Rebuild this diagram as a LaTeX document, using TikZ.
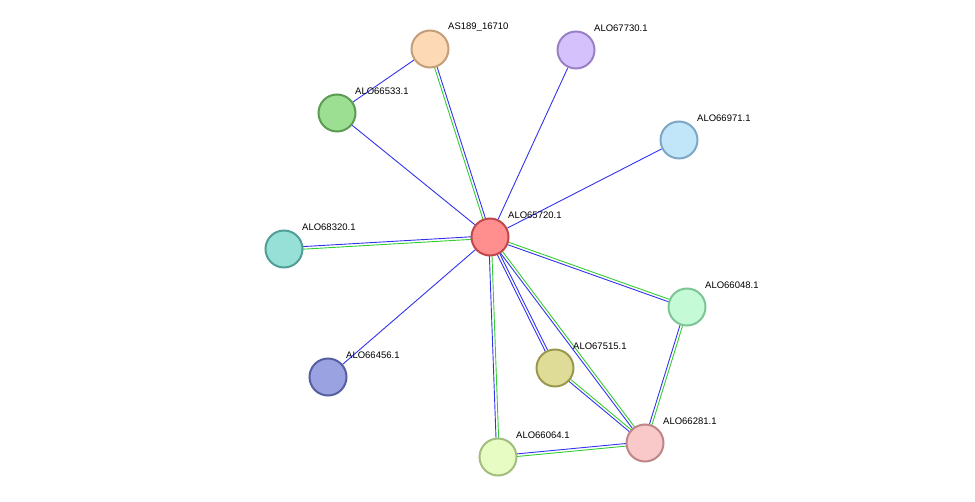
\documentclass[tikz,border=0pt]{standalone}
\usepackage{fontspec}
\setmainfont{Liberation Sans}
\usetikzlibrary{calc,backgrounds}
\definecolor{eb}{HTML}{3333EE}
\definecolor{eg}{HTML}{33CC33}
\tikzset{
 x=1pt,y=-1pt,
 prot/.style={circle,minimum size=37pt,inner sep=0pt,line width=2pt},
 lab/.style={anchor=west,font=\fontsize{9.5}{11}\selectfont,inner sep=0pt},
 eblue/.style={eb,line width=0.9pt},
 egreen/.style={eg,line width=0.9pt}
}
\newcommand{\mynode}[6]{\definecolor{f#1}{HTML}{#4}\definecolor{d#1}{HTML}{#5}%
 \node[prot,fill=f#1,draw=d#1] (#1) at (#2,#3) {};
 \node[lab] (#1l) at (#2+18,#3-22) {#6};}
\newcommand{\sedge}[2]{\draw[eblue] (#1) -- (#2);}
\newcommand{\dedge}[2]{\draw[egreen] ($(#1)!1.3pt!90:(#2)$) -- ($(#2)!1.3pt!-90:(#1)$);
 \draw[eblue] ($(#1)!-1.3pt!90:(#2)$) -- ($(#2)!-1.3pt!-90:(#1)$);}
\begin{document}
\begin{tikzpicture}
\useasboundingbox (0,0) rectangle (975,502);
\mynode{c}{490}{237}{FF8F8F}{C04848}{ALO65720.1}
\mynode{as}{430}{49}{FDD9B5}{C49E78}{AS189\_16710}
\mynode{a30}{576}{50}{D5C2FC}{9A80C4}{ALO67730.1}
\mynode{a33}{337}{113}{9CDF93}{5C9C52}{ALO66533.1}
\mynode{a71}{679}{140}{C1E6FA}{7DA7C4}{ALO66971.1}
\mynode{a20}{284}{249}{96E0D8}{509E96}{ALO68320.1}
\mynode{a48}{687}{307}{C4FAD6}{7DC496}{ALO66048.1}
\mynode{a15}{555}{368}{DEDC96}{9A9850}{ALO67515.1}
\mynode{a56}{328}{377}{9AA2E2}{5660A0}{ALO66456.1}
\mynode{a64}{498}{457}{E6FCC2}{A2BE7E}{ALO66064.1}
\mynode{a81}{645}{443}{F9C9C9}{BE8686}{ALO66281.1}
\begin{scope}[on background layer]
\sedge{c}{a30}\sedge{c}{a71}\sedge{c}{a56}\sedge{c}{a33}\sedge{a33}{as}
\dedge{c}{as}\dedge{c}{a20}\dedge{c}{a48}\dedge{c}{a81}\dedge{c}{a64}
\draw[eblue] ($(c)!1.3pt!90:(a15)$) -- ($(a15)!1.3pt!-90:(c)$);
\draw[eblue] ($(c)!-1.3pt!90:(a15)$) -- ($(a15)!-1.3pt!-90:(c)$);
\dedge{a15}{a81}\dedge{a48}{a81}\dedge{a81}{a64}
\end{scope}
\end{tikzpicture}
\end{document}
